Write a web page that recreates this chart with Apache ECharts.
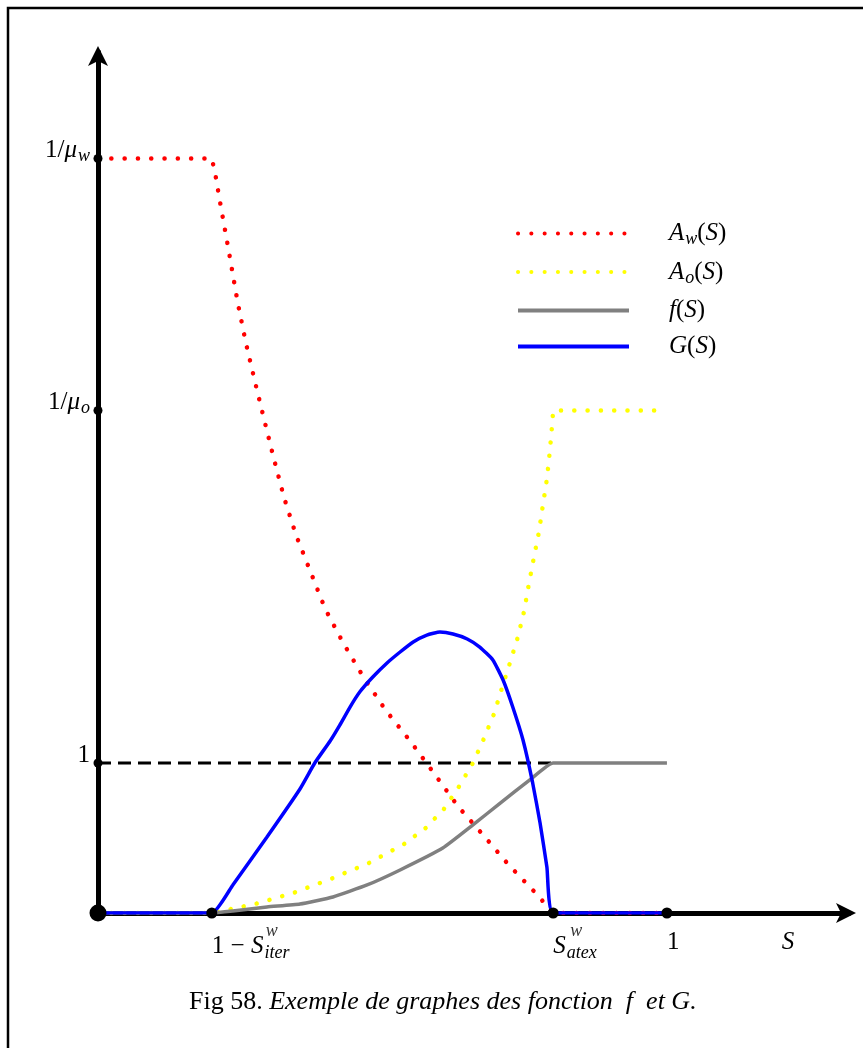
<!DOCTYPE html>
<html>
<head>
<meta charset="utf-8">
<script src="https://cdn.jsdelivr.net/npm/echarts@6/dist/echarts.min.js"></script>
<style>
  html, body { margin: 0; padding: 0; background: #fff; }
  #chart { width: 863px; height: 1048px; }
</style>
</head>
<body>
<div id="chart"></div>
<script>
// Saturation landmarks on the S axis and the two reference mobility levels
const sIter = 0.2;          // 1 - S_iter^w
const sAtex = 0.8;          // S_atex^w
const sEnd = 1;
const sLabelPos = 1.202;    // where the axis name "S" sits
const invMuW = 5.03;        // 1/mu_w
const invMuO = 3.35;        // 1/mu_o

// x tick values and y tick values (positions of the black dots)
const xTicks = [sIter, sAtex, sEnd];
const yTicks = [1, invMuO, invMuW];

// A_w(S): water mobility curve
const awS = [0, 0.2, 0.206, 0.214, 0.230, 0.246, 0.260, 0.276, 0.292, 0.309, 0.327, 0.348, 0.373, 0.399, 0.431, 0.467, 0.506, 0.548, 0.589, 0.633, 0.677, 0.722, 0.770, 0.8, 1];
const awV = [5.03, 5.03, 4.93, 4.75, 4.41, 4.06, 3.80, 3.54, 3.29, 3.03, 2.77, 2.52, 2.28, 2.03, 1.80, 1.57, 1.35, 1.15, 0.94, 0.71, 0.52, 0.32, 0.13, 0, 0];

// A_o(S): oil mobility curve
const aoS = [0, 0.2, 0.276, 0.343, 0.409, 0.476, 0.538, 0.576, 0.608, 0.634, 0.659, 0.678, 0.696, 0.710, 0.724, 0.738, 0.749, 0.757, 0.766, 0.775, 0.782, 0.789, 0.794, 0.798, 0.8, 1];
const aoV = [0, 0, 0.06, 0.133, 0.227, 0.333, 0.46, 0.567, 0.693, 0.84, 1.0, 1.16, 1.327, 1.5, 1.667, 1.84, 2.013, 2.187, 2.367, 2.54, 2.72, 2.893, 3.073, 3.247, 3.35, 3.35];

// f(S): fractional flow
const fS = [0, 0.2, 0.237, 0.297, 0.355, 0.413, 0.473, 0.531, 0.606, 0.659, 0.707, 0.759, 0.8, 1];
const fV = [0, 0, 0.013, 0.04, 0.06, 0.107, 0.187, 0.287, 0.433, 0.587, 0.733, 0.887, 1, 1];

// G(S)
const gS = [0, 0.2, 0.237, 0.297, 0.355, 0.381, 0.408, 0.425, 0.443, 0.460, 0.483, 0.508, 0.531, 0.554, 0.578, 0.601, 0.624, 0.649, 0.671, 0.694, 0.712, 0.729, 0.747, 0.764, 0.777, 0.789, 0.8, 1];
const gV = [0, 0, 0.187, 0.507, 0.827, 1.0, 1.147, 1.253, 1.373, 1.473, 1.573, 1.667, 1.74, 1.807, 1.853, 1.873, 1.86, 1.827, 1.773, 1.687, 1.553, 1.373, 1.153, 0.867, 0.6, 0.307, 0, 0];

// horizontal reference level f = 1
const unitLevelS = [0, sAtex];
const unitLevelV = [1, 1];

const zip = (xs, ys) => xs.map((x, i) => [x, ys[i]]);

const SERIF = "'Liberation Serif', 'DejaVu Serif', serif";
const BASE = 25;
const SUB = 18;

const mathRich = {
  n:   { fontFamily: SERIF, fontSize: BASE, fontWeight: 'normal', color: '#000' },
  i:   { fontFamily: SERIF, fontSize: BASE, fontStyle: 'italic', fontWeight: 'normal', color: '#000' },
  sub: { fontFamily: SERIF, fontSize: SUB, fontStyle: 'italic', fontWeight: 'normal', color: '#000', padding: [12, 0, 0, 1] },
  subIt: { fontFamily: SERIF, fontSize: SUB, fontStyle: 'italic', fontWeight: 'normal', color: '#000', padding: [14, 0, 0, 1] }
};

const legendNames = {
  'Aw': '{i|A}{sub|w}{n|(}{i|S}{n|)}',
  'Ao': '{i|A}{sub|o}{n|(}{i|S}{n|)}',
  'f':  '{i|f}{n|(}{i|S}{n|)}',
  'G':  '{i|G}{n|(}{i|S}{n|)}'
};

const yLabelText = v => {
  if (v === 1) return '{n|1}';
  if (v === invMuO) return '{n|1/}{i|μ}{sub|o}';
  if (v === invMuW) return '{n|1/}{i|μ}{sub|w}';
  return '';
};
const xLabelText = v => {
  if (v === sIter) return '{n|1 − }{i|S}{subIt|iter}';
  if (v === sAtex) return '{i|S}{subIt|atex}';
  if (v === sEnd) return '{n|1}';
  if (v === sLabelPos) return '{i|S}';
  return '';
};

const dotted = (color) => ({ color, width: 4.5, type: [0.1, 13.2], cap: 'round' });

const chart = echarts.init(document.getElementById('chart'), null, { renderer: 'canvas' });

chart.setOption({
  animation: false,
  backgroundColor: '#fff',
  grid: { left: 98, right: 14, top: 52, bottom: 135, containLabel: false },
  xAxis: {
    type: 'value', min: 0, max: 1.32,
    splitLine: { show: false },
    axisLine: {
      lineStyle: { color: '#000', width: 5 },
      symbol: ['none', 'arrow'], symbolSize: [15, 20], symbolOffset: [0, 7]
    },
    axisTick: { show: false },
    axisLabel: {
      customValues: [sIter, sAtex, sEnd, sLabelPos],
      formatter: xLabelText,
      rich: mathRich,
      align: 'left', margin: 17, showMinLabel: true, showMaxLabel: true
    }
  },
  yAxis: {
    type: 'value', min: 0, max: 5.74,
    splitLine: { show: false },
    axisLine: {
      lineStyle: { color: '#000', width: 5 },
      symbol: ['none', 'arrow'], symbolSize: [15, 20], symbolOffset: [0, 6]
    },
    axisTick: { show: false },
    axisLabel: {
      customValues: yTicks,
      formatter: yLabelText,
      rich: mathRich,
      align: 'right', verticalAlign: 'middle', margin: 8,
      padding: [0, 0, 16, 0]
    }
  },
  legend: {
    orient: 'vertical',
    left: 511, top: 216,
    itemWidth: 111, itemHeight: 14, itemGap: 11,
    formatter: name => legendNames[name],
    textStyle: { rich: mathRich, padding: [0, 0, 0, 35] },
    lineStyle: { width: 4 },
    itemStyle: { color: 'rgba(0,0,0,0)', opacity: 0, borderWidth: 0 },
    data: ['Aw', 'Ao', 'f', 'G']
  },
  title: {
    text: '{n|Fig 58. }{i|Exemple de graphes des fonction  f  et G.}',
    left: 184, top: 984,
    textStyle: {
      fontWeight: 'normal',
      rich: {
        n: { fontFamily: SERIF, fontSize: 26, fontWeight: 'normal', color: '#000' },
        i: { fontFamily: SERIF, fontSize: 26, fontStyle: 'italic', fontWeight: 'normal', color: '#000' }
      }
    }
  },
  graphic: [
    { type: 'polyline', shape: { points: [[8, 1048], [8, 8], [863, 8]] },
      style: { stroke: '#000', lineWidth: 2.5, fill: null }, silent: true }
  ],
  series: [
    {
      name: 'level', type: 'line', data: zip(unitLevelS, unitLevelV),
      symbol: 'none', lineStyle: { color: '#000', width: 3, type: [13, 7] }, z: 2
    },
    {
      name: 'Aw', type: 'line', data: zip(awS, awV),
      symbol: 'none', itemStyle: { color: '#ff0000' }, lineStyle: dotted('#ff0000'), z: 3
    },
    {
      name: 'Ao', type: 'line', data: zip(aoS, aoV),
      symbol: 'none', itemStyle: { color: '#ffff00' }, lineStyle: dotted('#ffff00'), z: 3
    },
    {
      name: 'f', type: 'line', data: zip(fS, fV), smooth: 0.15,
      symbol: 'none', itemStyle: { color: '#808080' }, lineStyle: { color: '#808080', width: 3.5 }, z: 4
    },
    {
      name: 'G', type: 'line', data: zip(gS, gV), smooth: 0.15,
      symbol: 'none', itemStyle: { color: '#0000ff' }, lineStyle: { color: '#0000ff', width: 3.5 }, z: 5
    },
    {
      // black dots marking the landmark values on both axes
      name: 'ticks', type: 'scatter', z: 6, silent: true,
      data: [[0, 0]].concat(xTicks.map(x => [x, 0]), yTicks.map(y => [0, y])),
      symbolSize: (v) => (v[0] === 0 && v[1] === 0 ? 17 : (v[1] === 0 ? 11 : 9)),
      itemStyle: { color: '#000', opacity: 1 }
    },
    {
      // superscript w above the subscripts of the two saturation labels
      name: 'sup', type: 'scatter', z: 6, silent: true,
      data: [[sIter, 0], [sAtex, 0]],
      symbolSize: 0,
      label: {
        show: true, formatter: 'w', position: 'bottom',
        fontFamily: SERIF, fontSize: SUB, fontStyle: 'italic', color: '#000'
      },
      labelLayout: (p) => ({ dx: p.dataIndex === 0 ? 60 : 23, dy: 4 })
    }
  ]
});
</script>
</body>
</html>
